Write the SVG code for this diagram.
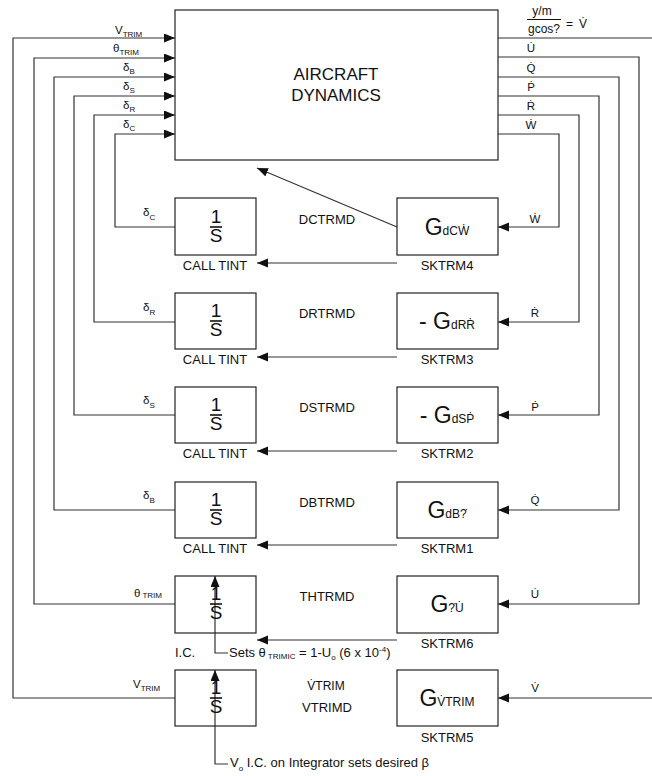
<svg xmlns="http://www.w3.org/2000/svg" width="652" height="776" viewBox="0 0 652 776">
<style>
text{font-family:"Liberation Sans",Arial,sans-serif;fill:#111}
.box{fill:#fff;stroke:#222;stroke-width:1.2}
.ln{fill:none;stroke:#333;stroke-width:1.2}
.lbl{font-size:13px}
.sig{font-size:11.5px}
.sub{font-size:8px}
.one{font-size:19px}
.g{font-size:23px}
.gs{font-size:12px}
.mid{text-anchor:middle}
</style>
<defs>
<marker id="ah" markerUnits="userSpaceOnUse" markerWidth="12" markerHeight="10" refX="11" refY="4.5" orient="auto">
<path d="M0,0 L11,4.5 L0,9 z" fill="#111"/>
</marker>
</defs>

<g id="connectors">
<path class="ln" d="M175,698 H13 V38 H175" marker-end="url(#ah)"/>
<path class="ln" d="M175,604 H34 V58 H175" marker-end="url(#ah)"/>
<path class="ln" d="M175,510 H54 V77 H175" marker-end="url(#ah)"/>
<path class="ln" d="M175,415 H74 V96 H175" marker-end="url(#ah)"/>
<path class="ln" d="M175,322 H94 V115 H175" marker-end="url(#ah)"/>
<path class="ln" d="M175,227 H115 V134 H175" marker-end="url(#ah)"/>
<path class="ln" d="M498,38 H652"/>
<path class="ln" d="M652,698 H498" marker-end="url(#ah)"/>
<path class="ln" d="M498,57 H639 V604 H498" marker-end="url(#ah)"/>
<path class="ln" d="M498,77 H619 V510 H498" marker-end="url(#ah)"/>
<path class="ln" d="M498,96 H599 V415 H498" marker-end="url(#ah)"/>
<path class="ln" d="M498,115 H579 V322 H498" marker-end="url(#ah)"/>
<path class="ln" d="M498,134 H559 V227 H498" marker-end="url(#ah)"/>
<path class="ln" d="M397,263 H257" marker-end="url(#ah)"/>
<path class="ln" d="M397,357 H257" marker-end="url(#ah)"/>
<path class="ln" d="M397,451 H257" marker-end="url(#ah)"/>
<path class="ln" d="M397,545 H257" marker-end="url(#ah)"/>
<path class="ln" d="M397,640 H257" marker-end="url(#ah)"/>
<path class="ln" d="M397,227 L257,168" marker-end="url(#ah)"/>
<path class="ln" d="M228,653 H215 V576" marker-end="url(#ah)"/>
<path class="ln" d="M228,764 H215 V670" marker-end="url(#ah)"/>
</g>

<g id="labels">
<text class="sig" x="115" y="34">V<tspan class="sub" dy="3">TRIM</tspan></text>
<text class="sig" x="113" y="52">θ<tspan class="sub" dy="3">TRIM</tspan></text>
<text class="sig" x="123" y="71">δ<tspan class="sub" dy="3">B</tspan></text>
<text class="sig" x="123" y="90">δ<tspan class="sub" dy="3">S</tspan></text>
<text class="sig" x="123" y="109">δ<tspan class="sub" dy="3">R</tspan></text>
<text class="sig" x="123" y="128">δ<tspan class="sub" dy="3">C</tspan></text>

<text class="mid" x="542" y="15" font-size="12">y/m</text>
<path d="M527,19.5 H561" stroke="#111" stroke-width="1"/>
<text class="mid" x="544" y="33" font-size="12">gcos?</text>
<text x="566" y="28" font-size="12">=</text>
<text x="579" y="28" font-size="12">V̇</text>
<text class="sig mid" x="531" y="52">U̇</text>
<text class="sig mid" x="531" y="72">Q̇</text>
<text class="sig mid" x="531" y="91">Ṗ</text>
<text class="sig mid" x="531" y="110">Ṙ</text>
<text class="sig mid" x="531" y="129">Ẇ</text>

<text class="sig" x="143" y="216">δ<tspan class="sub" dy="4">C</tspan></text>
<text class="sig" x="143" y="311">δ<tspan class="sub" dy="4">R</tspan></text>
<text class="sig" x="143" y="404">δ<tspan class="sub" dy="4">S</tspan></text>
<text class="sig" x="143" y="499">δ<tspan class="sub" dy="4">B</tspan></text>
<text class="sig" x="134" y="597">θ<tspan class="sub" dx="2" dy="1">TRIM</tspan></text>
<text class="sig" x="133" y="688">V<tspan class="sub" dy="3">TRIM</tspan></text>

<text class="sig mid" x="535" y="223">Ẇ</text>
<text class="sig mid" x="535" y="317">Ṙ</text>
<text class="sig mid" x="535" y="411">Ṗ</text>
<text class="sig mid" x="535" y="504">Q̇</text>
<text class="sig mid" x="535" y="598">U̇</text>
<text class="sig mid" x="535" y="692">V̇</text>

<text class="lbl mid" x="327" y="224">DCTRMD</text>
<text class="lbl mid" x="327" y="318">DRTRMD</text>
<text class="lbl mid" x="327" y="412">DSTRMD</text>
<text class="lbl mid" x="327" y="507">DBTRMD</text>
<text class="lbl mid" x="327" y="601">THTRMD</text>
<text class="mid" x="326" y="690" font-size="12">V̇TRIM</text>
<text class="lbl mid" x="327" y="712">VTRIMD</text>

<text class="lbl mid" x="215" y="270">CALL TINT</text>
<text class="lbl mid" x="215" y="364">CALL TINT</text>
<text class="lbl mid" x="215" y="458">CALL TINT</text>
<text class="lbl mid" x="215" y="553">CALL TINT</text>
<text class="lbl" x="175" y="657">I.C.</text>
<text class="lbl" x="229" y="657">Sets θ<tspan class="sub" dx="2" dy="2">TRIMIC</tspan><tspan dy="-2"> = 1-U</tspan><tspan class="sub" dy="3">o</tspan><tspan dy="-3"> (6 x 10</tspan><tspan class="sub" dy="-5">-4</tspan><tspan dy="5">)</tspan></text>
<text class="lbl" x="230" y="767">V<tspan class="sub" dy="4">o</tspan><tspan dy="-4">  I.C. on Integrator sets desired β</tspan></text>

<text class="lbl mid" x="447" y="270">SKTRM4</text>
<text class="lbl mid" x="447" y="364">SKTRM3</text>
<text class="lbl mid" x="447" y="458">SKTRM2</text>
<text class="lbl mid" x="447" y="553">SKTRM1</text>
<text class="lbl mid" x="447" y="648">SKTRM6</text>
<text class="lbl mid" x="447" y="742">SKTRM5</text>
</g>

<g id="aircraft-dynamics">
<rect class="box" x="175" y="10" width="323" height="150"/>
<text class="mid" x="336" y="80" font-size="17">AIRCRAFT</text>
<text class="mid" x="336" y="101" font-size="17">DYNAMICS</text>
</g>

<g id="int-dc"><rect class="box" x="175" y="198" width="81" height="57"/><text class="one mid" x="216" y="223">1</text><path d="M210,227 H222" stroke="#111" stroke-width="1.6"/><text class="one mid" x="216" y="242">S</text></g>
<g id="int-dr"><rect class="box" x="175" y="293" width="81" height="56"/><text class="one mid" x="216" y="317">1</text><path d="M210,321 H222" stroke="#111" stroke-width="1.6"/><text class="one mid" x="216" y="336">S</text></g>
<g id="int-ds"><rect class="box" x="175" y="387" width="81" height="56"/><text class="one mid" x="216" y="411">1</text><path d="M210,415 H222" stroke="#111" stroke-width="1.6"/><text class="one mid" x="216" y="430">S</text></g>
<g id="int-db"><rect class="box" x="175" y="482" width="81" height="56"/><text class="one mid" x="216" y="506">1</text><path d="M210,510 H222" stroke="#111" stroke-width="1.6"/><text class="one mid" x="216" y="525">S</text></g>
<g id="int-th"><rect class="box" x="175" y="576" width="81" height="57" style="fill:none"/><text class="one mid" x="216" y="600">1</text><path d="M210,604 H222" stroke="#111" stroke-width="1.6"/><text class="one mid" x="216" y="619">S</text></g>
<g id="int-v"><rect class="box" x="175" y="670" width="81" height="56" style="fill:none"/><text class="one mid" x="216" y="694">1</text><path d="M210,698 H222" stroke="#111" stroke-width="1.6"/><text class="one mid" x="216" y="713">S</text></g>

<g id="g-sktrm4"><rect class="box" x="397" y="198" width="101" height="57"/><text class="g mid" x="447" y="235">G<tspan class="gs">dCẆ</tspan></text></g>
<g id="g-sktrm3"><rect class="box" x="397" y="293" width="101" height="56"/><text class="g mid" x="447" y="329">- G<tspan class="gs">dRṘ</tspan></text></g>
<g id="g-sktrm2"><rect class="box" x="397" y="387" width="101" height="56"/><text class="g mid" x="447" y="423">- G<tspan class="gs">dSṖ</tspan></text></g>
<g id="g-sktrm1"><rect class="box" x="397" y="482" width="101" height="56"/><text class="g mid" x="447" y="518">G<tspan class="gs">dB?̇</tspan></text></g>
<g id="g-sktrm6"><rect class="box" x="397" y="576" width="101" height="57"/><text class="g mid" x="447" y="612">G<tspan class="gs">?̇U̇</tspan></text></g>
<g id="g-sktrm5"><rect class="box" x="397" y="670" width="101" height="56"/><text class="g mid" x="447" y="706">G<tspan class="gs">V̇TRIM</tspan></text></g>
</svg>
